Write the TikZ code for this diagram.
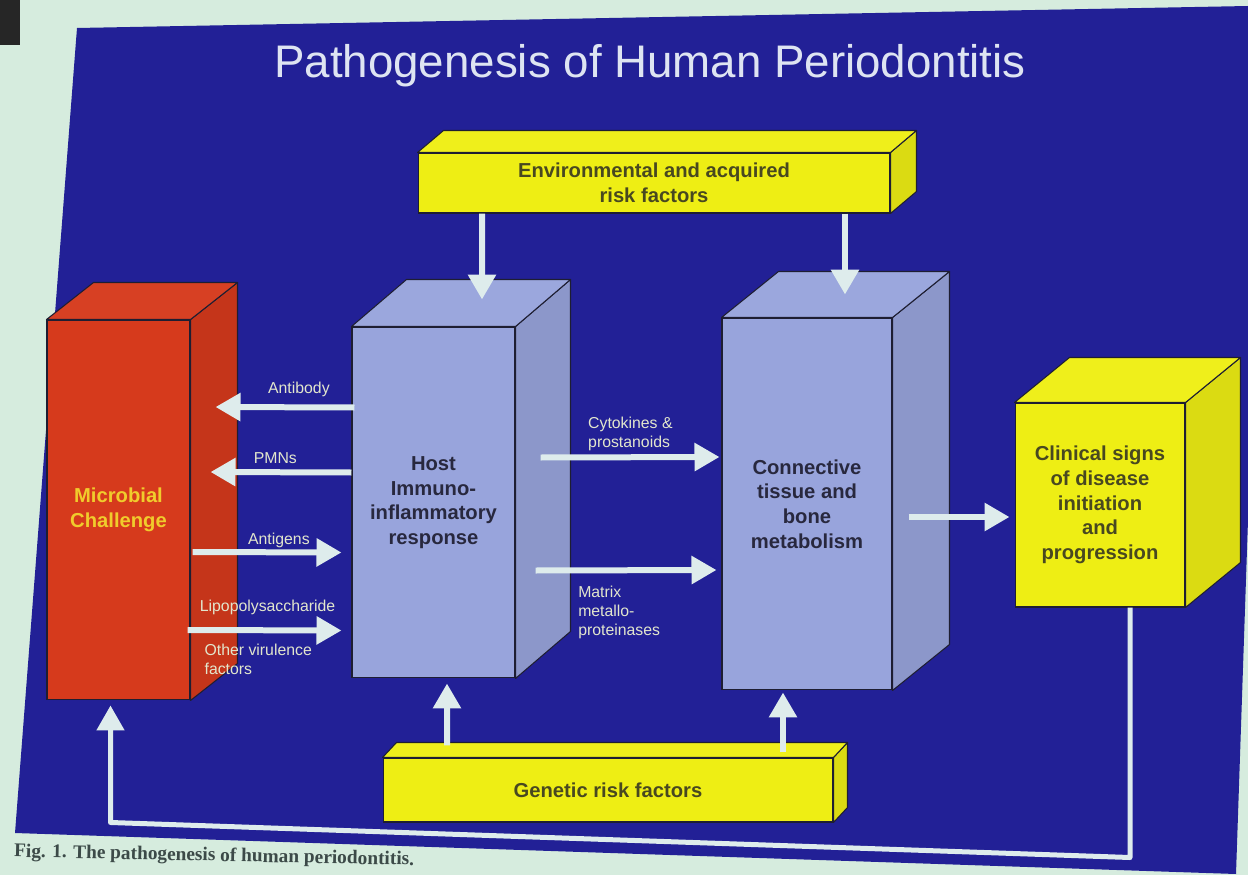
\documentclass[tikz,border=0pt]{standalone}
\usepackage{fontspec}
\setmainfont{Liberation Sans}
\newfontfamily\capfont{Liberation Serif}
\usetikzlibrary{arrows.meta, calc, positioning}

\definecolor{slideBlue}{RGB}{34,32,150}
\definecolor{paperMint}{RGB}{214,236,222}
\definecolor{microRed}{RGB}{214,58,28}
\definecolor{hostBlue}{RGB}{152,164,220}
\definecolor{riskYellow}{RGB}{238,238,20}
\definecolor{arrowWhite}{RGB}{222,236,236}
\definecolor{labelPale}{RGB}{226,230,205}
\definecolor{boxInk}{RGB}{40,40,62}
\definecolor{riskInk}{RGB}{72,72,32}
\definecolor{microInk}{RGB}{240,204,44}
\definecolor{edgeInk}{RGB}{30,30,50}
\definecolor{titleInk}{RGB}{222,228,242}
\definecolor{captionInk}{RGB}{60,74,72}

\begin{document}
\begin{tikzpicture}[
    x=0.02cm, y=-0.02cm,
    box/.style={draw=edgeInk, line width=0.6pt, align=center, inner sep=0pt,
        font=\bfseries\fontsize{11.5}{14}\selectfont}, % front face of a block
    microBox/.style={box, fill=microRed, text=microInk},
    hostBox/.style={box, fill=hostBlue, text=boxInk},
    riskBar/.style={box, fill=riskYellow, text=riskInk},
    flowArrow/.style={line width=0.12cm, arrowWhite, -{Triangle[width=0.54cm, length=0.5cm]}},
    flowLabel/.style={font=\fontsize{9}{11}\selectfont, text=labelPale, inner sep=1pt, align=left},
]
    % 1. slide and paper
    \useasboundingbox (0,0) rectangle (1248,875);
    \fill[paperMint] (0,0) rectangle (1248,875);
    \fill[black!85] (0,0) rectangle (20,45);
    \fill[slideBlue] (77,28) -- (1248,6) -- (1248,520) -- (1236,874) -- (15,833) -- cycle;

    \node[text=titleInk, font=\fontsize{26}{30}\selectfont] (title) at (650,66) {Pathogenesis of Human Periodontitis};

    % 2. front faces of the blocks
    \node[microBox, minimum width=2.86cm, minimum height=7.6cm] (micro) at (118.5,510) {Microbial\\Challenge};
    \node[hostBox, minimum width=3.26cm, minimum height=7.02cm] (host) at (433.5,502.5) {Host\\Immuno-\\inflammatory\\response};
    \node[hostBox, minimum width=3.4cm, minimum height=7.44cm] (conn) at (807,504) {Connective\\tissue and\\bone\\metabolism};
    \node[riskBar, minimum width=3.4cm, minimum height=4.08cm] (clin) at (1100,505) {Clinical signs\\of disease\\initiation\\and\\progression};
    \node[riskBar, minimum width=9.44cm, minimum height=1.2cm] (env) at (654,183) {Environmental and acquired\\risk factors};
    \node[riskBar, minimum width=9cm, minimum height=1.28cm] (gen) at (608,790) {Genetic risk factors};

    % 3. side and top faces (depth given in px)
    \foreach \n/\dx/\dy/\col in {micro/47/37/microRed, host/55/47/hostBlue, conn/57/46/hostBlue,
                                 clin/55/45/riskYellow, env/26/22/riskYellow, gen/14/15/riskYellow} {
        \filldraw[draw=edgeInk, line width=0.6pt, line join=round, fill=\col!92!black]
            (\n.north east) -- ++(\dx,-\dy) -- ($(\n.south east)+(\dx,-\dy)$) -- (\n.south east) -- cycle;
        \filldraw[draw=edgeInk, line width=0.6pt, line join=round, fill=\col!97!white]
            (\n.north west) -- ++(\dx,-\dy) -- ($(\n.north east)+(\dx,-\dy)$) -- (\n.north east) -- cycle;
    }

    % 4. risk factors into the blocks
    \draw[flowArrow] ($(env.south)+(-172,0)$) -- ($(host.north)+(48.5,-27)$);
    \draw[flowArrow] ($(env.south)+(191,0)$) -- ($(conn.north)+(38,-23)$);
    \draw[flowArrow] ($(gen.north)+(-161,-12)$) -- ($(host.south)+(13.5,5)$);
    \draw[flowArrow] ($(gen.north)+(175,-5)$) -- ($(conn.south)+(-24,2)$);

    % 5. host <-> microbes
    \draw[flowArrow] ($(host.west)+(3,-95)$) -- node[flowLabel, pos=0.4, above=3pt] (lblAb) {Antibody} ($(micro.east)+(25,-103)$);
    \draw[flowArrow] ($(host.west)+(0,-30)$) -- node[flowLabel, pos=0.54, above=2pt] (lblPmn) {PMNs} ($(micro.east)+(20,-38)$);
    \draw[flowArrow] ($(micro.east)+(2,42)$) -- node[flowLabel, pos=0.58, above=0pt] (lblAg) {Antigens} ($(host.west)+(-10,50)$);
    \draw[flowArrow] ($(micro.east)+(-3,120)$) -- node[flowLabel, pos=0.52, above=6pt] (lblLps) {Lipopolysaccharide} ($(host.west)+(-10,128)$);
    \node[flowLabel, anchor=north west] (lblVir) at ($(micro.east)+(12,132)$) {Other virulence\\factors};

    % 6. host -> tissue -> clinical signs
    \draw[flowArrow] ($(host.east)+(25,-45)$) -- node[flowLabel, pos=0.24, anchor=south west, yshift=1pt] (lblCyt) {Cytokines \&\\prostanoids} ($(conn.west)+(-2,-47)$);
    \draw[flowArrow] ($(host.east)+(20,68)$) -- node[flowLabel, pos=0.21, anchor=north west, yshift=-6pt] (lblMmp) {Matrix\\metallo-\\proteinases} ($(conn.west)+(-5,66)$);
    \draw[flowArrow] ($(conn.east)+(16,13)$) -- ($(clin.west)+(-5,12)$);

    % 7. feedback to the microbial challenge
    \draw[flowArrow, line width=0.1cm, line join=round] ($(clin.south)+(30,0)$) -- ++(0,250) -- ($(micro.south)+(-8,122)$) -- ($(micro.south)+(-8,5)$);

    \node[text=captionInk, font=\capfont\bfseries\fontsize{11}{13}\selectfont, anchor=west, rotate=-1.2] (caption) at (8,852) {Fig. 1. The pathogenesis of human periodontitis.};
\end{tikzpicture}
\end{document}
